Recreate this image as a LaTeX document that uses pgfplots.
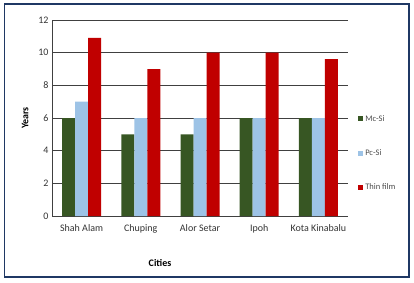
\documentclass[border=0pt]{standalone}
\usepackage{fontspec}
\setmainfont{Carlito}
\usepackage{pgfplots}
\pgfplotsset{compat=1.18}
\definecolor{mcsi}{HTML}{375623}
\definecolor{pcsi}{HTML}{9DC3E6}
\definecolor{thin}{HTML}{C00000}
\definecolor{framec}{HTML}{1F3864}
\begin{document}
\begin{tikzpicture}
\path (0pt,0pt) rectangle (414pt,282pt);
\begin{axis}[
  at={(52pt,66pt)}, anchor=south west,
  scale only axis, width=296pt, height=196pt,
  ybar=0pt, bar width=13pt,
  xmin=-0.5, xmax=4.5, ymin=0, ymax=12,
  xtick={0,1,2,3,4},
  xticklabels={Shah Alam, Chuping, Alor Setar, Ipoh, Kota Kinabalu},
  ytick={0,2,...,12},
  major tick length=0pt,
  ymajorgrids, grid style={black!75, line width=0.8pt},
  axis lines*=left,
  axis line style={black!75, line width=0.8pt},
  /pgf/number format/assume math mode=true,
  tick label style={font=\fontsize{10}{12}\selectfont, text=black!80},
  x tick label style={yshift=-5pt},
  ylabel={\textbf{Years}},
  ylabel style={at={(axis description cs:-0.091,0.5)}, anchor=center, font=\fontsize{10}{12}\selectfont},
  xlabel={\textbf{Cities}},
  xlabel style={at={(axis description cs:0.365,-0.24)}, anchor=center, font=\fontsize{10}{12}\selectfont},
  legend style={at={(1.034,0.32)}, anchor=west, draw=none, fill=none,
    font=\fontsize{8.5}{10}\selectfont, text=black!70, row sep=23pt,
    inner sep=0pt, legend cell align=left},
  legend image code/.code={\fill[#1] (0pt,-2.5pt) rectangle (5pt,2.5pt);},
]
\addplot[fill=mcsi, draw=none] coordinates {(0,6) (1,5) (2,5) (3,6) (4,6)};
\addplot[fill=pcsi, draw=none] coordinates {(0,7) (1,6) (2,6) (3,6) (4,6)};
\addplot[fill=thin, draw=none] coordinates {(0,10.9) (1,9) (2,10) (3,10) (4,9.6)};
\legend{Mc-Si, Pc-Si, Thin film}
\end{axis}
\draw[framec, line width=1.6pt] (4.5pt,5pt) -- (409pt,5pt) -- (409pt,278pt) -- (4.5pt,278pt) -- cycle;
\end{tikzpicture}
\end{document}
